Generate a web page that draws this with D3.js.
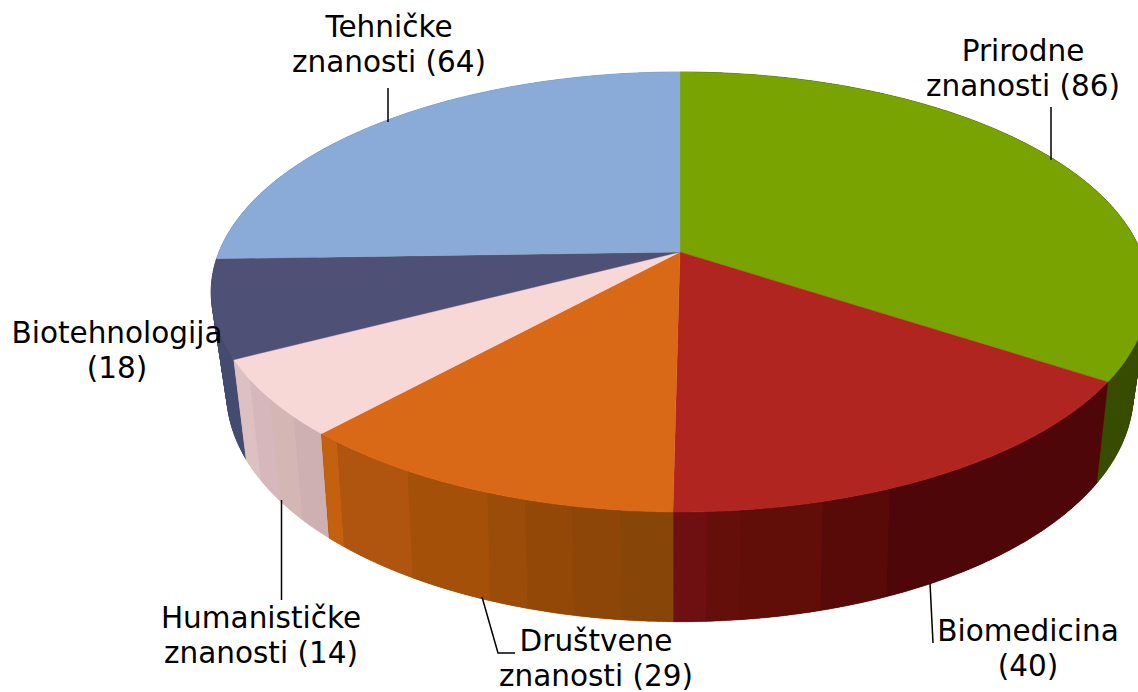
<!DOCTYPE html>
<html>
<head>
<meta charset="utf-8">
<script src="https://cdn.jsdelivr.net/npm/d3@7"></script>
<style>
  html, body { margin: 0; padding: 0; background: #fff; overflow: hidden; }
  text { font-family: "DejaVu Sans", sans-serif; font-size: 29.5px; fill: #000; text-anchor: middle; }
</style>
</head>
<body>
<div id="chart"></div>
<script>
const categories = ['Prirodne znanosti', 'Biomedicina', 'Društvene znanosti', 'Humanističke znanosti', 'Biotehnologija', 'Tehničke znanosti']
const values = [86, 40, 29, 14, 18, 64]

const topColors = ['#78a300', '#b12520', '#d96916', '#f8d7d7', '#4f5075', '#8aabd8']

// side wall shading: where the bands change inside a slice (0..1 clockwise), and their colours
const sideBreaks = [
  [],
  [0.6, 0.73, 0.88, 0.94],
  [0.13, 0.25, 0.37, 0.47, 0.7, 0.94],
  [0.25, 0.5, 0.75],
  [],
  []
]
const sideColors = [
  ['#384c00'],
  ['#4e0608', '#580a09', '#620e08', '#650f0a', '#6e1012'],
  ['#884508', '#8e4508', '#944808', '#9a4c08', '#a45008', '#b05510', '#c4610f'],
  ['#cfb0b2', '#d4b6b5', '#d6b8bc', '#dcc0c2'],
  ['#434b70'],
  ['#6d88ad']
]

// label centre x, first baseline y
const labelX = [1023, 1028, 596, 261, 117, 389]
const labelY = [60.5, 641, 650.5, 628, 343, 36.5]
const leaders = [
  [[1051, 107], [1051, 160]],
  [[930, 583], [933, 643]],
  [[482, 597], [498, 653], [515, 653]],
  [[281.5, 500], [281.5, 600]],
  [],
  [[388, 88], [388, 122]]
]

const width = 1138
const height = 692
const lineHeight = 35

// the two rims of the disc, tilted away from the viewer
const topRim = { cx: 680, cy: 252, rx: 461, ry: 212.7, k: 0.1818 }
const bottomRim = { cx: 680, cy: 348, rx: 444, ry: 219, k: 0.2 }

function project(rim, r, angle) {
  const x = r * Math.sin(angle)
  const y = -r * Math.cos(angle)
  const w = 1 - rim.k * y
  return [rim.cx + rim.rx * x / w, rim.cy + rim.ry * y / w]
}

const slices = d3.pie().sort(null)(values)
const line = d3.line()
const step = Math.PI / 360

// wall is built from thin quads, all wound the same way, so the silhouette stays filled
function wallPath(a0, a1) {
  const angles = d3.range(a0, a1, step).concat(a1)
  return d3.pairs(angles).map(function(p) {
    const quad = [
      project(topRim, 1, p[0]),
      project(topRim, 1, p[1]),
      project(bottomRim, 1, p[1]),
      project(bottomRim, 1, p[0])
    ]
    if (d3.polygonArea(quad) < 0) quad.reverse()
    return line(quad) + 'Z'
  }).join('')
}

// back of the disc first
const depth = d => Math.cos((d.startAngle + d.endAngle) / 2)
const bySide = slices.map((d, i) => ({ slice: d, index: i }))
  .sort((p, q) => depth(q.slice) - depth(p.slice))

const svg = d3.select('#chart').append('svg')
  .attr('width', width)
  .attr('height', height)
  .attr('viewBox', [0, 0, width, height])
  .style('display', 'block')

// --- side wall: one base per slice, bands on top so no seams show ---
const gside = svg.append('g').attr('class', 'g-sides')

bySide.forEach(function(s) {
  const d = s.slice
  const colors = sideColors[s.index]
  const at = d3.scaleLinear().domain([0, 1]).range([d.startAngle, d.endAngle])
  const shade = d3.scaleThreshold().domain(sideBreaks[s.index]).range(colors)
  const edges = [0].concat(sideBreaks[s.index], [1])

  gside.append('path')
    .attr('d', wallPath(d.startAngle, d.endAngle))
    .attr('fill', colors[Math.floor(colors.length / 2)])
    .attr('stroke', colors[Math.floor(colors.length / 2)])
    .attr('stroke-width', 0.5)

  gside.selectAll('path.band-' + s.index)
    .data(d3.pairs(edges))
    .join('path')
      .attr('class', 'band-' + s.index)
      .attr('d', e => wallPath(at(e[0]), at(e[1])))
      .attr('fill', e => shade((e[0] + e[1]) / 2))
})

// --- top face ---
svg.append('g').attr('class', 'g-top')
  .selectAll('path')
  .data(slices)
  .join('path')
    .attr('d', function(d) {
      const angles = d3.range(d.startAngle, d.endAngle, step).concat(d.endAngle)
      return line([project(topRim, 0, 0)].concat(angles.map(a => project(topRim, 1, a)))) + 'Z'
    })
    .attr('fill', (d, i) => topColors[i])
    .attr('stroke', (d, i) => topColors[i])
    .attr('stroke-width', 0.4)

// --- leader lines ---
svg.append('g').attr('class', 'g-leaders')
  .selectAll('path')
  .data(leaders.filter(d => d.length > 0))
  .join('path')
    .attr('d', d => line(d))
    .attr('fill', 'none')
    .attr('stroke', '#000')
    .attr('stroke-width', 1.5)

// --- labels, count goes on the second line ---
const labels = svg.append('g').attr('class', 'g-labels')
  .selectAll('text')
  .data(categories)
  .join('text')

labels.each(function(name, i) {
  const words = name.split(' ')
  const rows = [words[0], (words[1] ? words[1] + ' ' : '') + '(' + values[i] + ')']
  d3.select(this).selectAll('tspan')
    .data(rows)
    .join('tspan')
      .attr('x', labelX[i])
      .attr('y', (r, j) => labelY[i] + j * lineHeight)
      .text(r => r)
})
</script>
</body>
</html>
